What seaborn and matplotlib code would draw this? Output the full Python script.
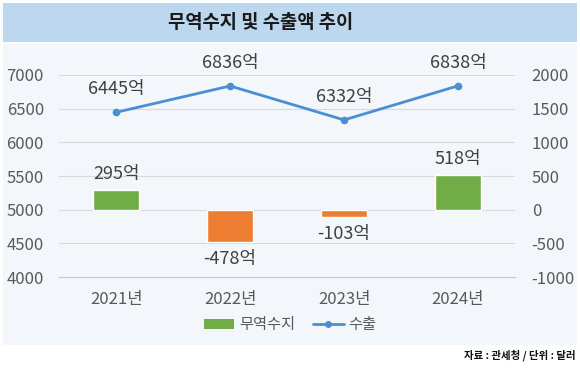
import numpy as np
import pandas as pd
import matplotlib
matplotlib.use("Agg")
import matplotlib.pyplot as plt
import seaborn as sns
from matplotlib.patches import Rectangle, Patch
from matplotlib.lines import Line2D

sns.set_style("white")
plt.rcParams['font.family'] = ['Noto Sans CJK KR', 'DejaVu Sans']
plt.rcParams['axes.unicode_minus'] = False

# data
years = ['2021년', '2022년', '2023년', '2024년']
balance = [295, -478, -103, 518]        # 무역수지 (right axis)
exports = [6445, 6836, 6332, 6838]      # 수출 (left axis)

green = '#70AD47'
orange = '#ED7D31'
blue = '#4A8FD4'
txt = '#595959'
bar_colors = [green if v >= 0 else orange for v in balance]

df = pd.DataFrame({'year': years, 'balance': balance, 'exports': exports})

fig = plt.figure(figsize=(5.8, 3.69), dpi=100)
fig.patch.set_facecolor('white')
# title box and panel
fig.add_artist(Rectangle((0.005, 0.886), 0.99, 0.106, transform=fig.transFigure,
                         facecolor='#BDD7EE', edgecolor='none', zorder=0))
fig.add_artist(Rectangle((0.005, 0.065), 0.99, 0.815, transform=fig.transFigure,
                         facecolor='#F3F6FB', edgecolor='none', zorder=0))
fig.text(0.449, 0.938, '무역수지 및 수출액 추이', ha='center', va='center',
         fontsize=13.5, fontweight='bold', color='#1a1a1a')
fig.text(0.993, 0.037, '자료 : 관세청 / 단위 : 달러', ha='right', va='center',
         fontsize=7.5, fontweight='heavy', color='#111111')

ax1 = fig.add_axes([0.102, 0.249, 0.786, 0.548])
ax1.patch.set_alpha(0)
ax2 = ax1.twinx()

# bars on the right axis
sns.barplot(data=df, x='year', y='balance', hue='year', palette=bar_colors,
            width=0.4, ax=ax2, legend=False, saturation=1)
# line on the left axis
x = np.arange(len(years))
sns.lineplot(x=x, y=exports, ax=ax1, color=blue, linewidth=2, marker='o',
             markersize=5.5, markeredgewidth=0)

ax1.set_ylim(4000, 7000)
ax2.set_ylim(-1000, 2000)
ax1.set_xlim(-0.5, 3.5)
ax1.set_yticks(np.arange(4000, 7001, 500))
ax2.set_yticks(np.arange(-1000, 2001, 500))
ax1.set_xticks(x)
ax1.set_xticklabels(years)
ax1.set_xticks(np.arange(-0.5, 4, 1), minor=True)
ax1.grid(axis='y', color='#D9D9D9', linewidth=0.8)
ax1.set_axisbelow(True)
for a in (ax1, ax2):
    for s in a.spines.values():
        s.set_visible(False)
    a.set_xlabel('')
    a.set_ylabel('')
    a.tick_params(length=0, labelsize=12, labelcolor=txt)
ax1.spines['bottom'].set_visible(True)
ax1.spines['bottom'].set_color('#C8C8C8')
ax1.spines['bottom'].set_linewidth(0.8)
ax1.tick_params(axis='x', which='minor', length=4, color='#C8C8C8', width=0.8)
ax1.tick_params(axis='x', pad=10)
ax1.tick_params(axis='y', pad=11)
ax2.tick_params(axis='y', pad=12)

# data labels
for i, v in enumerate(exports):
    ax1.annotate(f'{v}억', (i, v), xytext=(0, 10), textcoords='offset points',
                 ha='center', va='bottom', fontsize=13, color='#404040')
for i, v in enumerate(balance):
    off = 5 if v >= 0 else -6
    ax2.annotate(f'{v}억', (i, v), xytext=(0, off), textcoords='offset points',
                 ha='center', va='bottom' if v >= 0 else 'top',
                 fontsize=13, color='#404040')

handles = [Patch(facecolor=green, edgecolor='none'),
           Line2D([0], [0], color=blue, linewidth=2, marker='o', markersize=4)]
fig.legend(handles, ['무역수지', '수출'], loc='center', bbox_to_anchor=(0.50, 0.12),
           ncol=2, frameon=False, fontsize=11, handlelength=2.0,
           columnspacing=1.2, handletextpad=0.3, labelcolor=txt)

fig.savefig('out.png', dpi=100)
